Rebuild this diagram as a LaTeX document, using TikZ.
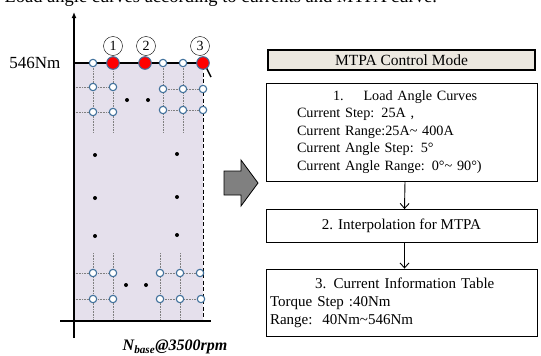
\documentclass[tikz,border=0pt]{standalone}
\usepackage{fontspec}
\setmainfont{Liberation Serif}
\usetikzlibrary{arrows.meta}
\definecolor{plotfill}{RGB}{229,224,236}
\definecolor{dotblue}{RGB}{65,113,156}
\definecolor{modefill}{RGB}{236,232,224}
\tikzset{
  opendot/.style={draw=dotblue, fill=white, line width=1.1pt},
  loaddot/.style={draw=dotblue, fill=red, line width=1pt},
  gridline/.style={gray, densely dotted, line width=0.6pt},
  stepbox/.style={draw, line width=0.9pt, minimum width=271pt, inner sep=0pt,
    font=\fontsize{15}{18}\selectfont},
  steparrow/.style={line width=0.9pt, -{Straight Barb[length=5pt,width=9pt]}},
  numcirc/.style={draw, circle, fill=white, minimum size=19pt, inner sep=0pt,
    font=\fontsize{14}{14}\selectfont},
}
\begin{document}
\begin{tikzpicture}[x=1pt, y=-1pt]
    \useasboundingbox (0,0) rectangle (541,356);

    % caption line (cut at the top)
    \node[anchor=base west, font=\fontsize{18.5}{18.5}\selectfont] (caption) at (1,2)
        {Load angle curves according to currents and MTPA curve.};

    % Operating region
    \fill[plotfill] (74,63) rectangle (203,321);
    \draw[line width=1pt, dash pattern=on 4pt off 2.5pt] (203,66) -- (203,321);

    % Grid lines (top)
    \draw[gridline] (93,63) -- (93,132) (113,63) -- (113,132)
        (163,63) -- (163,132) (183,63) -- (183,132);
    \draw[gridline] (74,87) -- (113,87) (74,112) -- (113,112)
        (163,89) -- (203,89) (163,110) -- (203,110);
    % Grid lines (bottom)
    \draw[gridline] (93,253) -- (93,321) (113,253) -- (113,321)
        (160,253) -- (160,321) (180,253) -- (180,321);
    \draw[gridline] (74,273) -- (113,273) (74,299) -- (113,299)
        (160,273) -- (200,273) (160,299) -- (201,299);

    % Axes
    \draw[line width=1.3pt, -{Latex[length=6pt,width=5pt]}] (74,338) -- (74,12);
    \draw[line width=1.3pt] (60,321) -- (211,321);
    \draw[line width=2pt] (74,63) -- (203,63);
    \node[anchor=east, font=\fontsize{17}{17}\selectfont] (tmax) at (64,63) {546Nm};
    \node[font=\fontsize{16}{16}\selectfont] (speed) at (175,347)
        {\bfseries\itshape N\textsubscript{base}@3500rpm};

    % Ellipsis dots
    \fill (127,100) circle (2pt) (148,100) circle (2pt)
        (126,285) circle (2pt) (146,285) circle (2pt);
    \fill (95,155) circle (2pt) (95,198) circle (2pt) (95,236) circle (2pt)
        (177,154) circle (2pt) (177,197) circle (2pt) (177,235) circle (2pt);

    % Table points
    \draw[opendot] (93,63) circle (3.7pt) (163,63) circle (3.7pt) (183,63) circle (3.7pt);
    \draw[opendot] (93,87) circle (3.7pt) (113,87) circle (3.7pt)
        (163,89) circle (3.7pt) (183,89) circle (3.7pt) (203,89) circle (3.7pt);
    \draw[opendot] (93,112) circle (3.7pt) (113,112) circle (3.7pt)
        (163,110) circle (3.7pt) (183,110) circle (3.7pt) (203,110) circle (3.7pt);
    \draw[opendot] (93,273) circle (3.7pt) (113,273) circle (3.7pt)
        (160,273) circle (3.7pt) (180,273) circle (3.7pt) (200,273) circle (3.7pt);
    \draw[opendot] (93,299) circle (3.7pt) (113,299) circle (3.7pt)
        (160,299) circle (3.7pt) (180,299) circle (3.7pt) (201,299) circle (3.7pt);

    % Max torque points 1, 2, 3
    \draw[line width=1.5pt] (206,67) -- (211,77);
    \draw[loaddot] (113,63) circle (6.3pt) (145,63) circle (6.3pt) (203,63) circle (6.3pt);
    \node[numcirc] (c1) at (113,46) {1};
    \node[numcirc] (c2) at (146,46) {2};
    \node[numcirc] (c3) at (200,46) {3};

    % Big arrow
    \draw[fill=gray, line width=0.8pt] (224,171) -- (241,171) -- (241,160) -- (258,183)
        -- (241,206) -- (241,195) -- (224,195) -- cycle;

    % Steps
    \node[stepbox, fill=modefill, line width=1.4pt, minimum width=267pt, minimum height=20pt,
        font=\fontsize{15.5}{18}\selectfont] (mode) at (401.5,60) {MTPA Control Mode};
    \node[stepbox, minimum height=98pt, text width=270pt, align=left,
        font=\fontsize{14.2}{17.5}\selectfont] (curves) at (402,132)
        {\hspace*{66pt}1.\hspace{1.4em}Load Angle Curves\\
         \hspace*{30pt}Current Step: 25A ,\\
         \hspace*{30pt}Current Range:25A\char`\~{} 400A\\
         \hspace*{30pt}Current Angle Step: 5°\\
         \hspace*{30pt}Current Angle Range: 0°\char`\~{} 90°)};
    \node[stepbox, minimum height=33pt] (interp) at (401.5,226) {2. Interpolation for MTPA};
    \node[stepbox, minimum height=67pt, text width=271pt, align=left] (table) at (401.5,302.5)
        {\hspace*{49pt}3. Current Information Table\\
         \hspace*{4pt}Torque Step :40Nm\\
         \hspace*{4pt}Range:\ \ 40Nm\char`\~546Nm};

    \draw[steparrow] ([xshift=3pt]curves.south) -- ([xshift=3pt]interp.north);
    \draw[steparrow] ([xshift=3pt]interp.south) -- ([xshift=3pt]table.north);
\end{tikzpicture}
\end{document}
